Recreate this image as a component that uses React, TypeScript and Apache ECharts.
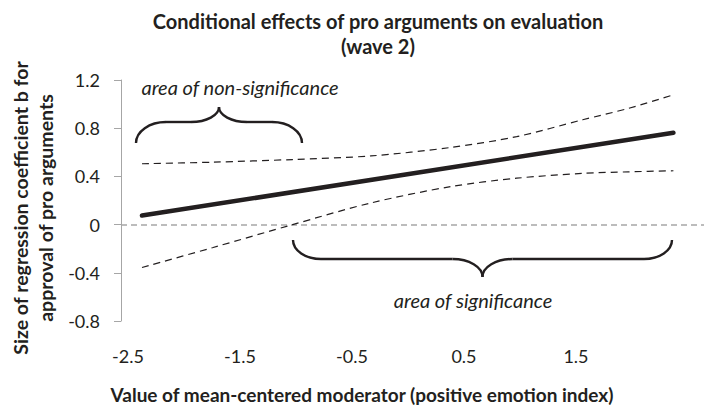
import React, { useEffect, useRef } from "react";
import * as echarts from "echarts";

// ---- data ----
const xTicks = [-2.5, -1.5, -0.5, 0.5, 1.5];
const yTicks = [-0.8, -0.4, 0, 0.4, 0.8, 1.2];
const effectX = [-2.375, 2.37];
const effectB = [0.075, 0.762];
const ciX = [-2.375, -1.74, -1.03, -0.33, 0.38, 0.97, 1.56, 1.97, 2.37];
const ciUpper = [0.505, 0.518, 0.54, 0.57, 0.64, 0.73, 0.87, 0.965, 1.077];
const ciLower = [-0.356, -0.19, 0.0, 0.18, 0.315, 0.385, 0.425, 0.438, 0.447];
const titleLines = ["Conditional effects of pro arguments on evaluation", "(wave 2)"];
const yNameLines = ["Size of regression coefficient b for", "approval of pro arguments"];
const xName = "Value of mean-centered moderator (positive emotion index)";
const notes = ["area of non-significance", "area of significance"];

const ink = "#231f20";
const grey = "#a6a6a6";
const FONT = "Lato";

function brace(x0: number, x1: number, yBase: number, yMid: number, yTip: number, r: number, r2: number) {
  const xm = (x0 + x1) / 2;
  const k = 0.552;
  const st = { stroke: ink, lineWidth: 2.4, fill: "none" };
  const seg = (a: number[], b: number[], c: number[], d: number[]) => ({
    type: "bezierCurve",
    silent: true,
    shape: { x1: a[0], y1: a[1], cpx1: b[0], cpy1: b[1], cpx2: c[0], cpy2: c[1], x2: d[0], y2: d[1] },
    style: st,
  });
  const m = (x: number) => 2 * xm - x;
  const els: any[] = [];
  for (const f of [(x: number) => x, m]) {
    els.push(
      seg([f(x0), yBase], [f(x0), yBase + k * (yMid - yBase)], [f(x0 + r * (1 - k)), yMid], [f(x0 + r), yMid])
    );
    els.push({
      type: "line",
      silent: true,
      shape: { x1: f(x0 + r), y1: yMid, x2: f(xm - r2), y2: yMid },
      style: st,
    });
    els.push(
      seg([f(xm - r2), yMid], [f(xm - r2 * (1 - k)), yMid], [xm, yTip - k * (yTip - yMid)], [xm, yTip])
    );
  }
  return els;
}

export default function App() {
  const ref = useRef<HTMLDivElement>(null);
  useEffect(() => {
    document.body.style.margin = "0";
    if (!ref.current) return;
    const chart = echarts.init(ref.current, undefined, { renderer: "svg" });
    const zip = (xs: number[], ys: number[]) => xs.map((x, i) => [x, ys[i]]);
    const text = (t: string, x: number, y: number, font: string, rotation = 0) => ({
      type: "text",
      x,
      y,
      rotation,
      silent: true,
      style: { text: t, font, fill: ink, align: "center", verticalAlign: "middle" },
    });
    chart.setOption({
      animation: false,
      backgroundColor: "#ffffff",
      textStyle: { fontFamily: FONT },
      grid: { left: 121, right: 0, top: 80, bottom: 90, containLabel: false },
      xAxis: {
        type: "value",
        min: -2.5625,
        max: 2.643,
        axisLine: { show: false },
        axisTick: { show: false },
        splitLine: { show: false },
        axisLabel: {
          customValues: xTicks,
          margin: 26,
          fontSize: 18,
          color: ink,
          fontFamily: FONT,
          formatter: (v: number) => String(Math.round(v * 10) / 10),
        },
      },
      yAxis: {
        type: "value",
        min: yTicks[0],
        max: yTicks[yTicks.length - 1],
        interval: 0.4,
        axisLine: { show: true, onZero: false, lineStyle: { color: grey, width: 1 } },
        axisTick: { show: true, length: 7, lineStyle: { color: grey, width: 1 } },
        splitLine: { show: false },
        axisLabel: {
          margin: 21,
          fontSize: 18,
          color: ink,
          fontFamily: FONT,
          formatter: (v: number) => {
            const r = Math.round(v * 10) / 10;
            return r === 0 ? "0" : r.toFixed(1);
          },
        },
      },
      series: [
        {
          type: "line",
          name: "upper",
          data: zip(ciX, ciUpper),
          smooth: 0.3,
          showSymbol: false,
          lineStyle: { color: ink, width: 1.2, type: [7, 5] },
          z: 3,
        },
        {
          type: "line",
          name: "lower",
          data: zip(ciX, ciLower),
          smooth: 0.3,
          showSymbol: false,
          lineStyle: { color: ink, width: 1.2, type: [7, 5] },
          z: 3,
        },
        {
          type: "line",
          name: "effect",
          data: zip(effectX, effectB),
          showSymbol: false,
          lineStyle: { color: ink, width: 4.5, cap: "round" },
          z: 4,
          markLine: {
            silent: true,
            symbol: "none",
            label: { show: false },
            lineStyle: { color: grey, width: 1.5, type: [6, 4] },
            data: [{ yAxis: 0 }],
            z: 2,
          },
        },
      ],
      graphic: [
        text(titleLines[0], 378, 21, `bold 20px ${FONT}`),
        text(titleLines[1], 378, 46, `bold 20px ${FONT}`),
        text(yNameLines[0], 20, 208, `bold 19.5px ${FONT}`, Math.PI / 2),
        text(yNameLines[1], 45, 208, `bold 19.5px ${FONT}`, Math.PI / 2),
        text(xName, 362, 394, `bold 19px ${FONT}`),
        text(notes[0], 240, 87, `italic 20px ${FONT}`),
        text(notes[1], 473, 300, `italic 20px ${FONT}`),
        ...brace(136, 302, 143, 122, 107, 30, 28),
        ...brace(293, 672, 240, 259, 277, 28, 30),
      ],
    });
    return () => chart.dispose();
  }, []);
  return <div ref={ref} style={{ width: 704, height: 411 }} />;
}
